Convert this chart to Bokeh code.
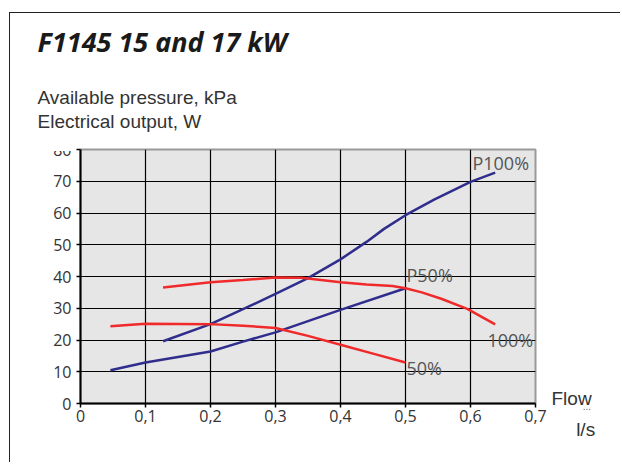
from bokeh.plotting import figure
from bokeh.models import Label, FixedTicker, Title, LinearAxis, InlineStyleSheet
from bokeh.embed import file_html
from bokeh.resources import INLINE

# ---- data ----
flow_p100 = [0.127, 0.2, 0.25, 0.3, 0.35, 0.4, 0.44, 0.467, 0.5, 0.544, 0.6, 0.638]
power_p100 = [19.6, 25.0, 29.7, 34.5, 39.5, 45.4, 50.9, 55.0, 59.3, 64.2, 69.8, 72.7]

flow_p50 = [0.046, 0.1, 0.2, 0.25, 0.3, 0.4, 0.5]
power_p50 = [10.5, 12.9, 16.4, 19.5, 22.4, 29.5, 36.3]

flow_100 = [0.127, 0.2, 0.25, 0.3, 0.34, 0.4, 0.44, 0.48, 0.5, 0.525, 0.555, 0.595, 0.638]
pressure_100 = [36.5, 38.2, 38.9, 39.7, 39.6, 38.2, 37.5, 37.0, 36.3, 35.0, 33.0, 29.8, 24.9]

flow_50 = [0.046, 0.1, 0.2, 0.25, 0.3, 0.35, 0.4, 0.45, 0.5]
pressure_50 = [24.3, 25.1, 25.0, 24.5, 23.8, 21.3, 18.5, 15.7, 12.9]

x_ticks = [0, 0.1, 0.2, 0.3, 0.4, 0.5, 0.6, 0.7]
x_tick_labels = ["0", "0,1", "0,2", "0,3", "0,4", "0,5", "0,6", "0,7"]
y_ticks = [0, 10, 20, 30, 40, 50, 60, 70, 80]

curve_labels = ["P100%", "P50%", "100%", "50%"]
curve_label_x = [0.603, 0.5015, 0.626, 0.5015]
curve_label_y = [75.7, 40.4, 19.9, 11.2]

title_text = "F1145 15 and 17 kW"
ylabel_1 = "Available pressure, kPa"
ylabel_2 = "Electrical output, W"
xlabel_1 = "Flow"
xlabel_dots = "..."
xlabel_2 = "l/s"

BLUE = "#2f2e8c"
RED = "#f02a2a"
TXT = "#333333"
NB = "\u00a0"

p = figure(width=620, height=462, x_range=(0, 0.7), y_range=(0, 80), title=None,
           output_backend="svg", toolbar_location=None,
           min_border_left=80, min_border_right=85, min_border_top=149, min_border_bottom=59)

p.background_fill_color = "#e6e6e6"
p.border_fill_color = "white"
p.outline_line_color = "#9a9a9a"
p.outline_line_width = 2

p.xgrid.ticker = FixedTicker(ticks=x_ticks[1:-1])
p.ygrid.ticker = FixedTicker(ticks=y_ticks[1:-1])
for g in (p.xgrid, p.ygrid):
    g.grid_line_color = "black"
    g.grid_line_width = 1.2

p.xaxis.ticker = FixedTicker(ticks=x_ticks)
p.xaxis.major_label_overrides = {t: s for t, s in zip(x_ticks, x_tick_labels)}
p.yaxis.ticker = FixedTicker(ticks=y_ticks)
for ax in (p.xaxis, p.yaxis):
    ax.axis_line_color = "black"
    ax.axis_line_width = 2
    ax.major_tick_line_color = "black"
    ax.major_tick_line_width = 1.5
    ax.major_tick_out = 4
    ax.major_tick_in = 0
    ax.minor_tick_line_color = None
    ax.major_label_text_font = "Open Sans"
    ax.major_label_text_font_size = "16px"
    ax.major_label_text_color = TXT
p.xaxis.major_label_standoff = 2
p.yaxis.major_label_standoff = 5

p.line(flow_p100, power_p100, line_color=BLUE, line_width=2.5)
p.line(flow_p50, power_p50, line_color=BLUE, line_width=2.5)
p.line(flow_100, pressure_100, line_color=RED, line_width=2.5)
p.line(flow_50, pressure_50, line_color=RED, line_width=2.5)

for t, x, y in zip(curve_labels, curve_label_x, curve_label_y):
    p.add_layout(Label(x=x, y=y, text=t, text_font="Open Sans", text_font_size="18px",
                       text_color="#555555", text_baseline="alphabetic", text_align="left"))

# titles above the plot (first added sits closest to the plot)
p.add_layout(Title(text=ylabel_1 + "\n" + ylabel_2, align="left", offset=-43, standoff=34,
                   text_font="Liberation Sans", text_font_size="19px", text_line_height=1.16,
                   text_font_style="normal", text_color=TXT), "above")
p.add_layout(Title(text=title_text, align="left", offset=-43, standoff=18,
                   text_font="Noto Sans", text_font_size="27px",
                   text_font_style="bold italic", text_color="#1a1a1a"), "above")

# "Flow" right of the plot
ra = LinearAxis(ticker=FixedTicker(ticks=[1.6]))
ra.major_label_overrides = {1.6: xlabel_1}
ra.axis_line_color = None
ra.major_tick_line_color = None
ra.minor_tick_line_color = None
ra.major_tick_out = 0
ra.major_tick_in = 0
ra.major_label_standoff = 16
ra.major_label_text_font = "Liberation Sans"
ra.major_label_text_font_size = "19px"
ra.major_label_text_color = TXT
p.add_layout(ra, "right")

# "..." and "l/s" under "Flow"
def unit_axis(text, size, pad, standoff, color):
    a = LinearAxis(ticker=FixedTicker(ticks=[x_ticks[-1]]))
    a.major_label_overrides = {x_ticks[-1]: NB * pad + text}
    a.axis_line_color = None
    a.major_tick_line_color = None
    a.minor_tick_line_color = None
    a.major_tick_out = 0
    a.major_tick_in = 0
    a.major_label_standoff = standoff
    a.major_label_text_font = "Liberation Sans"
    a.major_label_text_font_size = size
    a.major_label_text_color = color
    p.add_layout(a, "below")

unit_axis(xlabel_dots, "10px", 37, -24, "#666666")
unit_axis(xlabel_2, "19px", 19, -6, TXT)

p.stylesheets = [InlineStyleSheet(css="""
:host::before { content: ""; position: absolute; left: 9px; top: 12px; right: 0; bottom: 0;
  border-top: 1px solid #222; border-left: 1px solid #222; z-index: 5; pointer-events: none; }
:host::after { content: ""; position: absolute; left: 50px; top: 136px; width: 24px; height: 15px;
  background: white; z-index: 5; pointer-events: none; }
""")]

open("out.html", "w").write(file_html(p, INLINE))
